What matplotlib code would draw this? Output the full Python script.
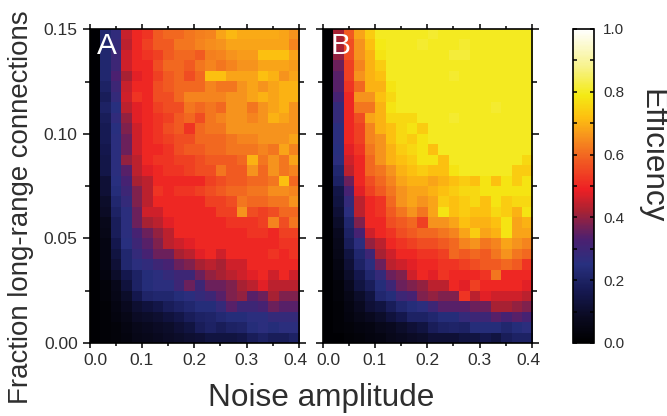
import matplotlib
matplotlib.use("Agg")
import matplotlib.pyplot as plt
from matplotlib.colors import LinearSegmentedColormap
from matplotlib.transforms import ScaledTranslation
import numpy as np

plt.rcParams['font.family'] = ['Liberation Sans', 'DejaVu Sans']

# efficiency in percent, top row (0.15) first
panel_a = [
    [1, 22, 27, 45, 50, 52, 58, 60, 60, 62, 63, 64, 68, 71, 69, 69, 69, 69, 68, 66],
    [1, 22, 28, 44, 50, 54, 58, 58, 62, 62, 64, 65, 66, 68, 68, 68, 68, 68, 68, 64],
    [1, 22, 30, 46, 50, 52, 54, 58, 60, 60, 58, 63, 64, 66, 67, 67, 72, 72, 72, 68],
    [1, 22, 30, 46, 50, 50, 56, 60, 60, 58, 62, 64, 62, 64, 66, 66, 68, 68, 68, 67],
    [1, 22, 33, 42, 48, 50, 54, 58, 60, 56, 60, 72, 72, 68, 68, 68, 72, 70, 66, 68],
    [1, 20, 30, 45, 50, 50, 56, 58, 60, 60, 60, 64, 62, 62, 66, 68, 66, 68, 70, 70],
    [1, 18, 28, 46, 52, 50, 56, 56, 60, 64, 64, 64, 64, 66, 66, 68, 70, 68, 70, 70],
    [1, 20, 25, 44, 48, 50, 54, 56, 56, 62, 60, 62, 60, 66, 66, 62, 66, 68, 70, 66],
    [1, 18, 27, 40, 48, 50, 52, 54, 58, 60, 56, 62, 64, 66, 66, 64, 66, 70, 68, 66],
    [1, 17, 25, 38, 46, 50, 52, 56, 58, 52, 60, 62, 62, 66, 66, 66, 66, 66, 66, 66],
    [1, 17, 26, 36, 46, 50, 52, 54, 56, 56, 60, 60, 60, 62, 64, 64, 66, 66, 66, 68],
    [1, 16, 26, 36, 46, 50, 50, 52, 56, 58, 58, 60, 60, 62, 62, 62, 64, 62, 68, 64],
    [1, 15, 26, 40, 44, 50, 52, 52, 54, 54, 56, 58, 58, 58, 60, 70, 62, 66, 62, 68],
    [1, 15, 26, 34, 44, 48, 50, 52, 52, 54, 56, 56, 62, 58, 58, 66, 60, 66, 62, 64],
    [1, 12, 25, 32, 42, 44, 50, 50, 50, 50, 50, 54, 56, 58, 58, 60, 60, 62, 72, 60],
    [1, 12, 24, 30, 38, 44, 52, 50, 52, 52, 54, 56, 58, 60, 60, 62, 62, 65, 65, 64],
    [1, 10, 22, 28, 38, 44, 50, 50, 50, 50, 50, 54, 54, 56, 62, 60, 60, 62, 62, 66],
    [1, 9, 20, 26, 36, 46, 46, 50, 50, 50, 50, 50, 54, 54, 66, 56, 54, 56, 60, 60],
    [1, 7, 18, 26, 36, 42, 44, 48, 50, 50, 50, 50, 50, 52, 52, 52, 54, 64, 56, 62],
    [1, 6, 18, 26, 32, 36, 40, 44, 50, 50, 50, 50, 50, 50, 50, 52, 52, 50, 54, 54],
    [1, 5, 16, 25, 30, 34, 38, 44, 46, 48, 50, 50, 50, 50, 50, 50, 50, 50, 52, 52],
    [1, 5, 14, 22, 28, 32, 36, 36, 42, 44, 48, 50, 46, 50, 50, 50, 50, 52, 50, 52],
    [1, 5, 12, 22, 26, 27, 30, 32, 36, 38, 42, 44, 42, 46, 46, 50, 50, 50, 50, 50],
    [1, 4, 10, 16, 20, 24, 26, 28, 30, 30, 36, 40, 42, 44, 46, 48, 50, 46, 50, 46],
    [1, 3, 7, 13, 20, 24, 26, 26, 30, 36, 30, 36, 36, 38, 42, 44, 48, 44, 44, 44],
    [1, 3, 6, 10, 16, 21, 22, 22, 24, 26, 28, 30, 34, 38, 40, 34, 36, 42, 38, 38],
    [1, 2, 5, 8, 11, 13, 15, 18, 20, 22, 24, 24, 28, 34, 30, 30, 32, 36, 34, 34],
    [1, 2, 4, 6, 9, 10, 11, 13, 15, 18, 20, 21, 23, 24, 24, 26, 26, 28, 28, 28],
    [1, 2, 3, 5, 7, 8, 9, 10, 12, 14, 18, 20, 18, 20, 21, 24, 26, 24, 26, 26],
    [1, 2, 3, 4, 6, 7, 8, 9, 10, 11, 12, 14, 14, 14, 15, 18, 20, 18, 18, 20],
]

panel_b = [
    [1, 42, 58, 68, 74, 80, 80, 80, 80, 80, 81, 80, 80, 80, 80, 80, 80, 80, 80, 80],
    [1, 42, 56, 66, 72, 79, 80, 80, 80, 81, 80, 80, 80, 81, 80, 80, 80, 80, 80, 80],
    [1, 40, 56, 66, 70, 78, 80, 80, 80, 80, 80, 80, 82, 82, 80, 80, 80, 80, 80, 80],
    [1, 36, 54, 64, 70, 74, 80, 80, 80, 80, 80, 80, 80, 80, 80, 80, 80, 80, 80, 80],
    [1, 34, 54, 66, 70, 72, 80, 80, 80, 80, 80, 80, 81, 80, 80, 80, 80, 80, 80, 80],
    [1, 34, 52, 60, 70, 70, 78, 80, 80, 80, 80, 80, 80, 80, 80, 80, 80, 80, 80, 80],
    [1, 32, 50, 66, 66, 72, 76, 80, 80, 80, 80, 80, 80, 80, 80, 80, 80, 80, 80, 80],
    [1, 28, 50, 62, 62, 70, 78, 80, 80, 80, 80, 80, 80, 80, 80, 80, 81, 80, 80, 80],
    [1, 28, 50, 56, 68, 70, 76, 76, 76, 80, 80, 80, 81, 80, 80, 80, 80, 80, 80, 80],
    [1, 26, 50, 54, 64, 70, 72, 76, 78, 74, 80, 80, 80, 80, 80, 80, 80, 80, 80, 80],
    [1, 26, 50, 54, 64, 66, 72, 76, 74, 78, 80, 80, 80, 80, 80, 80, 80, 80, 80, 80],
    [1, 25, 48, 52, 62, 66, 70, 74, 76, 78, 72, 80, 80, 80, 80, 80, 80, 80, 80, 80],
    [1, 26, 46, 50, 60, 66, 70, 72, 74, 78, 78, 72, 80, 80, 80, 80, 80, 80, 80, 76],
    [1, 22, 44, 50, 60, 62, 66, 70, 72, 74, 72, 72, 78, 80, 80, 80, 80, 80, 74, 74],
    [1, 20, 36, 50, 56, 60, 64, 68, 70, 70, 68, 70, 72, 74, 72, 78, 72, 78, 74, 78],
    [1, 15, 32, 48, 54, 58, 62, 66, 68, 68, 70, 72, 74, 76, 76, 78, 78, 78, 78, 78],
    [1, 14, 28, 44, 50, 52, 60, 66, 68, 66, 68, 74, 72, 74, 76, 72, 78, 74, 76, 76],
    [1, 12, 26, 44, 50, 52, 58, 62, 66, 62, 68, 78, 72, 74, 72, 72, 76, 74, 70, 78],
    [1, 10, 22, 38, 50, 50, 56, 58, 60, 54, 66, 66, 68, 72, 70, 70, 72, 78, 68, 70],
    [1, 8, 20, 32, 46, 50, 52, 56, 58, 60, 60, 62, 64, 68, 74, 68, 70, 78, 68, 68],
    [1, 7, 18, 26, 40, 44, 50, 52, 54, 56, 56, 58, 60, 64, 66, 62, 64, 68, 66, 64],
    [1, 6, 14, 22, 30, 42, 46, 50, 50, 52, 52, 54, 60, 58, 60, 58, 62, 66, 62, 60],
    [1, 5, 12, 20, 26, 36, 44, 46, 48, 50, 50, 52, 52, 54, 56, 58, 58, 60, 58, 52],
    [1, 4, 10, 16, 22, 28, 36, 38, 46, 50, 48, 52, 50, 50, 50, 52, 62, 50, 50, 50],
    [1, 3, 8, 14, 18, 24, 30, 36, 38, 40, 44, 44, 50, 48, 54, 50, 50, 50, 50, 48],
    [1, 3, 6, 10, 14, 22, 24, 30, 32, 38, 40, 38, 38, 52, 44, 48, 46, 46, 46, 44],
    [1, 2, 5, 8, 12, 14, 18, 22, 24, 26, 30, 34, 34, 34, 36, 36, 42, 42, 40, 38],
    [1, 2, 4, 6, 8, 10, 13, 16, 20, 20, 22, 24, 24, 28, 30, 30, 34, 32, 34, 32],
    [1, 2, 3, 4, 5, 7, 8, 10, 12, 14, 18, 20, 21, 20, 24, 24, 24, 22, 24, 26],
    [1, 1, 2, 3, 4, 5, 7, 8, 9, 10, 12, 12, 12, 14, 14, 16, 14, 18, 20, 20],
]

x_ticks = [0.0, 0.1, 0.2, 0.3, 0.4]
y_ticks = [0.00, 0.05, 0.10, 0.15]
cbar_ticks = [0.0, 0.2, 0.4, 0.6, 0.8, 1.0]

cmap_stops = [
    (0.00, "#000000"), (0.08, "#0a0a20"), (0.16, "#15184f"), (0.25, "#28307f"),
    (0.33, "#4c2070"), (0.42, "#a82233"), (0.49, "#ee2024"), (0.58, "#f15a22"),
    (0.66, "#f7941d"), (0.72, "#fdc010"), (0.79, "#f4ea14"), (0.88, "#f7f28a"),
    (1.00, "#ffffff"),
]
cmap = LinearSegmentedColormap.from_list("efficiency", cmap_stops)

W, H = 667, 416
TEXT = "#2e2e2e"


def px_axes(fig, left, top, right, bottom):
    return fig.add_axes([left / W, 1 - bottom / H, (right - left) / W, (bottom - top) / H])


fig = plt.figure(figsize=(W / 100, H / 100), dpi=100)
ax_a = px_axes(fig, 89.5, 29.5, 299, 343)
ax_b = px_axes(fig, 322.5, 29.5, 532, 343)
cax = px_axes(fig, 573, 29, 594, 343)

for ax, data, letter in [(ax_a, panel_a, "A"), (ax_b, panel_b, "B")]:
    im = ax.imshow(np.array(data) / 100, cmap=cmap, vmin=0, vmax=1, origin="upper",
                   extent=[0, 0.4, 0, 0.15], aspect="auto", interpolation="nearest")
    ax.set_xticks(x_ticks)
    ax.set_xticks(np.arange(0.05, 0.4, 0.1), minor=True)
    ax.set_yticks(y_ticks)
    ax.set_yticks(np.arange(0.025, 0.15, 0.05), minor=True)
    ax.tick_params(which="major", direction="out", top=True, right=True, length=5,
                   width=1.1, labelsize=12.5, labelcolor=TEXT)
    ax.tick_params(which="minor", direction="out", top=True, right=True, length=3.5, width=1.1)
    ax.tick_params(axis="x", which="major", length=3.8, pad=3.5)
    ax.tick_params(axis="x", which="minor", length=2.5)
    ax.tick_params(axis="y", which="major", pad=3.5)
    labels = ax.set_xticklabels(["%.1f" % t for t in x_ticks])
    # end labels are pulled inward so the two panels' labels do not collide
    for lab, dx in [(labels[0], 6), (labels[-1], -4)]:
        lab.set_transform(lab.get_transform() + ScaledTranslation(dx / 100, 0, fig.dpi_scale_trans))
    for s in ax.spines.values():
        s.set_linewidth(1.2)
    ax.text(0.036, 0.947, letter, transform=ax.transAxes, color="white", fontsize=21.5,
            ha="left", va="center")

ax_a.set_yticklabels(["%.2f" % t for t in y_ticks])
ax_b.tick_params(which="major", labelleft=False)

cbar = fig.colorbar(im, cax=cax)
cbar.set_ticks(cbar_ticks)
cbar.set_ticklabels(["%.1f" % t for t in cbar_ticks])
cbar.ax.set_yticks(np.arange(0.1, 1.0, 0.2), minor=True)
cbar.ax.tick_params(which="major", direction="in", left=True, right=True, length=3,
                    width=1.1, labelsize=11, labelcolor=TEXT, pad=6.5)
cbar.ax.tick_params(which="minor", direction="in", left=True, right=True, length=3, width=1.1)
cbar.outline.set_linewidth(1.2)

fig.text(21 / W, 1 - 207.5 / H, "Fraction long-range connections", rotation=90, fontsize=19.9,
         color=TEXT, ha="center", va="center")
fig.text(321.5 / W, 1 - 398 / H, "Noise amplitude", fontsize=22.7, color=TEXT,
         ha="center", va="center")
fig.text(651 / W, 1 - 156 / H, "Efficiency", rotation=270, fontsize=22.7, color=TEXT,
         ha="center", va="center")

fig.savefig("out.png", dpi=100)
plt.close(fig)
